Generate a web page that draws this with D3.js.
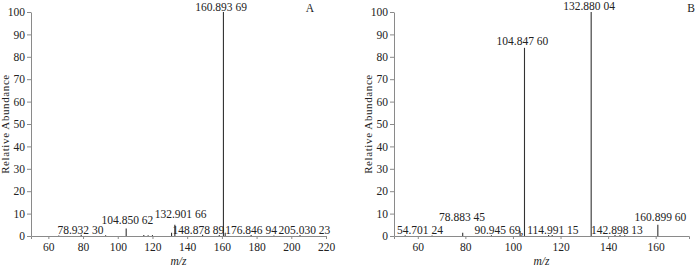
<!DOCTYPE html>
<html>
<head>
<meta charset="utf-8">
<script src="https://cdn.jsdelivr.net/npm/d3@7"></script>
<style>
  body { margin: 0; background: #fff; }
  svg text { font-family: 'Liberation Serif', 'DejaVu Serif', serif; fill: #222; }
</style>
</head>
<body>
<div id="chart"></div>
<script>
// Panel A peaks: [m/z, relative abundance]
const peaksA = [
  [66.0, 0.2], [78.93, 0.6], [93.0, 0.3], [104.85, 3.3], [115.0, 0.4], [117.5, 0.3],
  [120.0, 0.4], [131.0, 1.5], [132.90, 5.0], [148.88, 0.6], [158.5, 0.4],
  [160.89, 100], [161.9, 1.5], [176.85, 0.5], [190.0, 0.2], [205.03, 0.5]
];
// Panel A labels: [text, m/z, abundance] (text centre / baseline)
const labelsA = [
  ['160.893 69', 159.5, 100.6],
  ['78.932 30', 78.5, 0.9],
  ['104.850 62', 105.6, 5.4],
  ['132.901 66', 136.2, 8.0],
  ['148.878 89', 146.5, 0.9],
  ['176.846 94', 176.8, 0.9],
  ['205.030 23', 207.6, 0.9]
];

// Panel B peaks
const peaksB = [
  [54.70, 0.3], [66.0, 0.2], [78.88, 1.5], [90.95, 0.3], [103.0, 2.2],
  [104.85, 84], [114.99, 0.5], [116.5, 0.4], [132.88, 100], [142.90, 0.5],
  [145.0, 0.4], [147.0, 0.3], [160.90, 5.0]
];
const labelsB = [
  ['132.880 04', 132.0, 101.0],
  ['104.847 60', 104.0, 85.3],
  ['78.883 45', 78.6, 6.7],
  ['54.701 24', 60.9, 0.9],
  ['90.945 69,', 94.1, 0.9],
  ['114.991 15', 116.8, 0.9],
  ['142.898 13', 143.7, 0.9],
  ['160.899 60', 162.0, 6.7]
];

const xTicksA = [60, 80, 100, 120, 140, 160, 180, 200, 220];
const xTicksB = [60, 80, 100, 120, 140, 160];
const yTicks = [0, 10, 20, 30, 40, 50, 60, 70, 80, 90, 100];

const width = 700;
const height = 269;

const svg = d3.select('#chart')
  .append('svg')
  .attr('width', width)
  .attr('height', height);

function drawPanel(opts) {
  const x = d3.scaleLinear().domain(opts.domain).range([opts.left, opts.right]);
  const y = d3.scaleLinear().domain([0, 100]).range([236, 12]);
  const g = svg.append('g');
  const axisColor = '#8a8a8a';

  // x-axis
  const xAxis = g.append('g')
    .attr('transform', 'translate(0,236)')
    .call(d3.axisBottom(x).tickValues(opts.xTicks).tickSize(3).tickPadding(4)
      .tickSizeOuter(3).tickFormat(d3.format('d')));
  xAxis.selectAll('.domain, line').attr('stroke', axisColor);
  xAxis.selectAll('text').style('font-size', '11.5px').attr('fill', '#222');

  // y-axis
  const yAxis = g.append('g')
    .attr('transform', `translate(${opts.left},0)`)
    .call(d3.axisLeft(y).tickValues(yTicks).tickSize(4).tickPadding(2).tickSizeOuter(0));
  yAxis.selectAll('.domain, line').attr('stroke', axisColor);
  yAxis.selectAll('text').style('font-size', '11.5px').attr('fill', '#222');

  // peaks
  g.selectAll('line.peak')
    .data(opts.peaks)
    .enter()
    .append('line')
    .attr('class', 'peak')
    .attr('x1', (d) => x(d[0]))
    .attr('x2', (d) => x(d[0]))
    .attr('y1', y(0))
    .attr('y2', (d) => y(d[1]))
    .attr('stroke', '#333')
    .attr('stroke-width', 1.1);

  // peak labels
  g.selectAll('text.lab')
    .data(opts.labels)
    .enter()
    .append('text')
    .attr('class', 'lab')
    .attr('x', (d) => x(d[1]))
    .attr('y', (d) => y(d[2]))
    .attr('text-anchor', 'middle')
    .style('font-size', '11.5px')
    .text((d) => d[0]);

  // panel letter
  g.append('text')
    .attr('x', opts.letterX)
    .attr('y', 12)
    .attr('text-anchor', 'middle')
    .style('font-size', '11.5px')
    .text(opts.letter);

  // axis titles
  g.append('text')
    .attr('x', (opts.left + opts.right) / 2)
    .attr('y', 265)
    .attr('text-anchor', 'middle')
    .style('font-size', '11.5px')
    .style('font-style', 'italic')
    .text('m/z');

  g.append('text')
    .attr('transform', `translate(${opts.left - 22},124) rotate(-90)`)
    .attr('text-anchor', 'middle')
    .style('font-size', '11px')
    .style('letter-spacing', '0.6px')
    .text('Relative Abundance');
}

drawPanel({
  left: 31, right: 326, domain: [50, 220], xTicks: xTicksA,
  peaks: peaksA, labels: labelsA, letter: 'A', letterX: 310
});
drawPanel({
  left: 394, right: 689, domain: [50, 174], xTicks: xTicksB,
  peaks: peaksB, labels: labelsB, letter: 'B', letterX: 691
});
</script>
</body>
</html>
